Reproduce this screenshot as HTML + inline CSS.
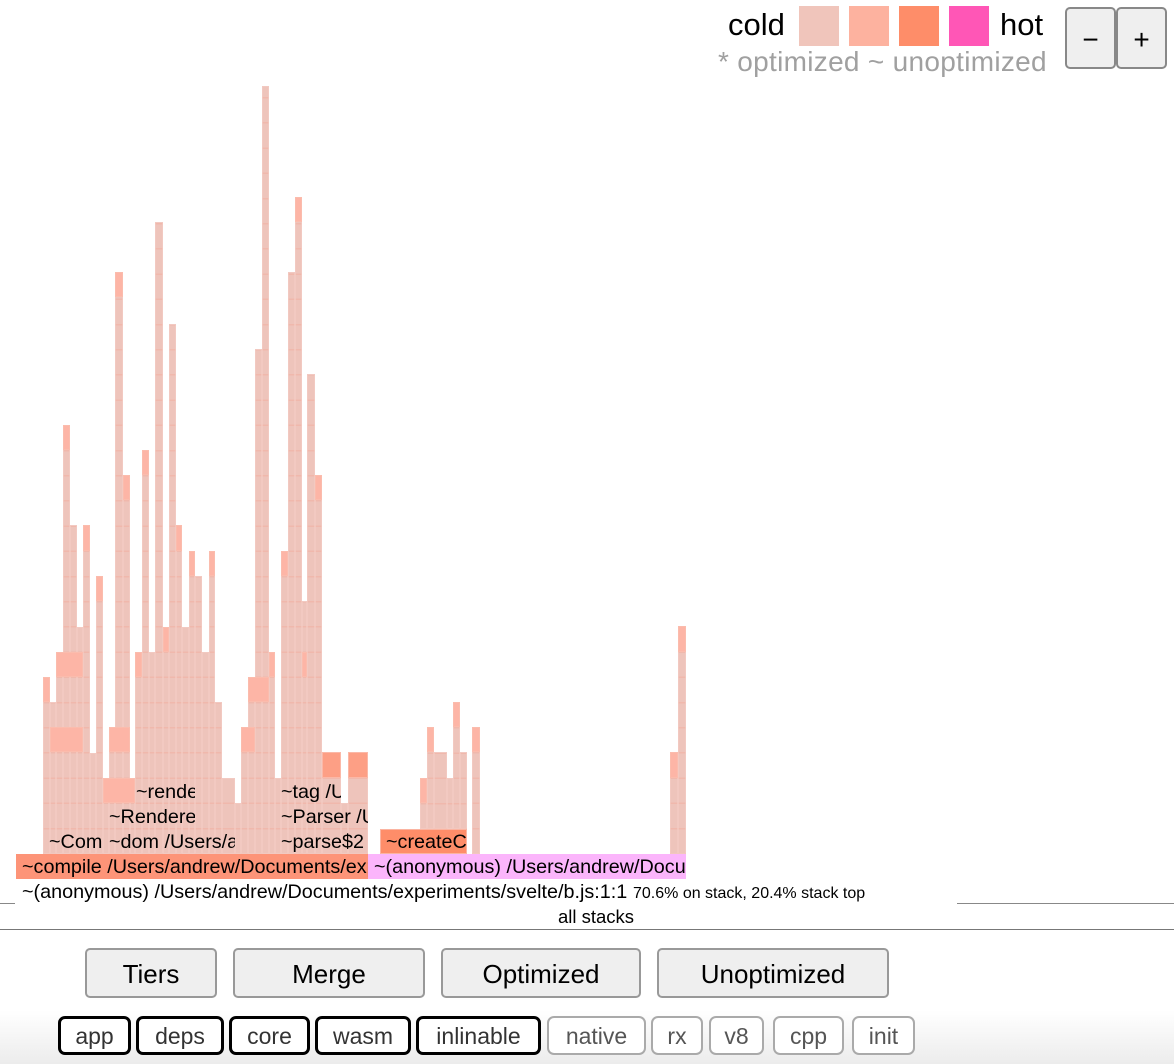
<!DOCTYPE html>
<html><head><meta charset="utf-8"><style>
body{margin:0;width:1174px;height:1064px;position:relative;overflow:hidden;font-family:"Liberation Sans",sans-serif;background:#fff}
.c{position:absolute;box-sizing:border-box;border:1px solid rgba(245,205,196,.6);background:repeating-linear-gradient(to top,#eec4bb 0,#eec4bb 23.7px,#f0b8ac 23.7px,#f0b8ac 25.2px)}
.h{position:absolute;box-sizing:border-box;background:#fdb5a6;border:1px solid rgba(250,190,175,.8)}
.t{position:absolute;font-size:19.8px;white-space:nowrap;overflow:hidden;line-height:27px;padding-left:6px;box-sizing:border-box;color:#000}
.btn{position:absolute;top:948px;height:50px;box-sizing:border-box;border:2px solid #999;border-radius:5px;background:#efefef;font-size:26px;text-align:center;line-height:48px}
.tag{position:absolute;top:1016px;height:39px;box-sizing:border-box;border-radius:7px;background:#fff;font-size:23px;text-align:center;line-height:36px;color:#555;border:2px solid #aaa}
.tag.on{border:3px solid #000;line-height:34px}
</style></head><body>
<div id="fg"></div>
<div style="position:absolute;left:728px;top:7px;font-size:31px">cold</div>
<div style="position:absolute;left:799px;top:6px;width:40px;height:40px;background:#f0c5bb"></div>
<div style="position:absolute;left:849px;top:6px;width:40px;height:40px;background:#fdb29f"></div>
<div style="position:absolute;left:899px;top:6px;width:40px;height:40px;background:#fe8d69"></div>
<div style="position:absolute;left:949px;top:6px;width:40px;height:40px;background:#ff56b6"></div>
<div style="position:absolute;left:1000px;top:7px;font-size:31px">hot</div>
<div style="position:absolute;left:718px;top:46px;font-size:28px;color:#a0a0a0;letter-spacing:0.3px">* optimized ~ unoptimized</div>
<div style="position:absolute;left:1065px;top:7px;width:51px;height:62px;box-sizing:border-box;border:2px solid #888;border-radius:5px;background:#efefef;font-size:28px;text-align:center;line-height:62px">−</div>
<div style="position:absolute;left:1116px;top:7px;width:51px;height:62px;box-sizing:border-box;border:2px solid #888;border-radius:5px;background:#efefef;font-size:28px;text-align:center;line-height:62px">+</div>
<div style="position:absolute;left:0;top:903px;width:15px;height:1px;background:#888"></div>
<div style="position:absolute;left:957px;top:903px;width:217px;height:1px;background:#888"></div>
<div style="position:absolute;left:0;top:906px;width:1174px;text-align:center;font-size:18.5px;padding-left:18px;box-sizing:border-box">all stacks</div>
<div style="position:absolute;left:0;top:929px;width:1174px;height:1px;background:#777"></div>
<div style="position:absolute;left:0;top:930px;width:1174px;height:134px;background:linear-gradient(to bottom,#fff 60%,#ececec)"></div>
<div class="btn" style="left:85px;width:132px">Tiers</div>
<div class="btn" style="left:233px;width:192px">Merge</div>
<div class="btn" style="left:441px;width:200px">Optimized</div>
<div class="btn" style="left:657px;width:232px">Unoptimized</div>
<div class="tag on" style="left:58px;width:73px;color:#333">app</div>
<div class="tag on" style="left:136px;width:88px;color:#333">deps</div>
<div class="tag on" style="left:229px;width:81px;color:#333">core</div>
<div class="tag on" style="left:315px;width:96px;color:#333">wasm</div>
<div class="tag on" style="left:416px;width:125px;color:#333">inlinable</div>
<div class="tag" style="left:547px;width:99px">native</div>
<div class="tag" style="left:651px;width:52px">rx</div>
<div class="tag" style="left:709px;width:55px">v8</div>
<div class="tag" style="left:773px;width:71px">cpp</div>
<div class="tag" style="left:852px;width:63px">init</div>
<script>
var fg=document.getElementById('fg');
function add(cls,x1,x2,y1,y2,bg){var d=document.createElement('div');d.className=cls;d.style.left=x1+'px';d.style.width=(x2-x1)+'px';d.style.top=y1+'px';d.style.height=(y2-y1)+'px';if(bg)d.style.background=bg;fg.appendChild(d);}
var cols=[[43,50,677],[50,56,702],[56,63,652],[63,70,425],[70,77,525],[77,83,627],[83,90,525],[90,96,753],[96,103,576],[103,109,778],[109,115,727],[115,123,272],[123,130,475],[130,135,778],[135,142,652],[142,149,450],[149,155,652],[155,163,222],[163,169,627],[169,176,324],[176,182,525],[182,189,627],[189,195,551],[195,202,576],[202,209,652],[209,215,551],[215,222,702],[222,235,778],[235,241,803],[241,248,727],[248,255,677],[255,262,349],[262,269,86],[269,275,652],[275,281,778],[281,288,551],[288,295,272],[295,302,197],[302,307,601],[307,315,374],[315,322,475],[322,341,752],[341,348,803],[348,368,752],[472,480,727],[670,678,752],[678,686,626]];
cols.forEach(function(c){add('c',c[0],c[1],c[2],854);});
[[420,427,778],[427,434,727],[434,447,752],[447,453,778],[453,460,702],[460,467,752]].forEach(function(c){add('c',c[0],c[1],c[2],829);});
var hs=[[43,50,677,702],[63,70,425,450],[83,90,525,551],[96,103,576,601],[115,123,272,297],[123,130,475,500],[142,149,450,475],[163,169,627,652],[176,182,525,551],[189,195,551,576],[209,215,551,576],[269,275,652,677],[281,288,551,576],[295,302,197,222],[315,322,475,500],[56,83,652,677],[50,83,727,752],[109,130,727,752],[135,142,652,677],[241,255,727,752],[248,269,677,702],[103,135,778,803],[302,307,652,677],[472,480,727,752],[420,427,778,803],[427,434,727,752],[453,460,702,727],[670,678,752,778],[678,686,626,652]];
hs.forEach(function(c){add('h',c[0],c[1],c[2],c[3]);});
add('h',322,341,752,778,'#fd9f85');add('h',348,368,752,778,'#fd9f85');
add('h',380,467,829,854,'#fe8d69');
function txt(s,x1,x2,y,bg){var d=document.createElement('div');d.className='t';d.textContent=s;d.style.left=x1+'px';d.style.width=(x2-x1)+'px';d.style.top=y+'px';d.style.height='25px';if(bg)d.style.background=bg;fg.appendChild(d);}
txt('~rende',130,195,779);txt('~tag /Users',275,341,779);
txt('~Renderer',103,195,804);txt('~Parser /Users',275,368,804);
txt('~Compile',43,103,829);txt('~dom /Users/andrew',103,235,829);txt('~parse$2',275,368,829);txt('~createComponent',380,467,829);
txt('~compile /Users/andrew/Documents/experiments',16,368,854,'#fd9478');
txt('~(anonymous) /Users/andrew/Documents/experiments',368,686,854,'#fbb5fb');
txt('~(anonymous) /Users/andrew/Documents/experiments/svelte/b.js:1:1',16,632,879);
var s=document.createElement('div');s.style.cssText='position:absolute;left:633px;top:885px;font-size:16px';s.textContent='70.6% on stack, 20.4% stack top';fg.appendChild(s);
</script>
</body></html>
